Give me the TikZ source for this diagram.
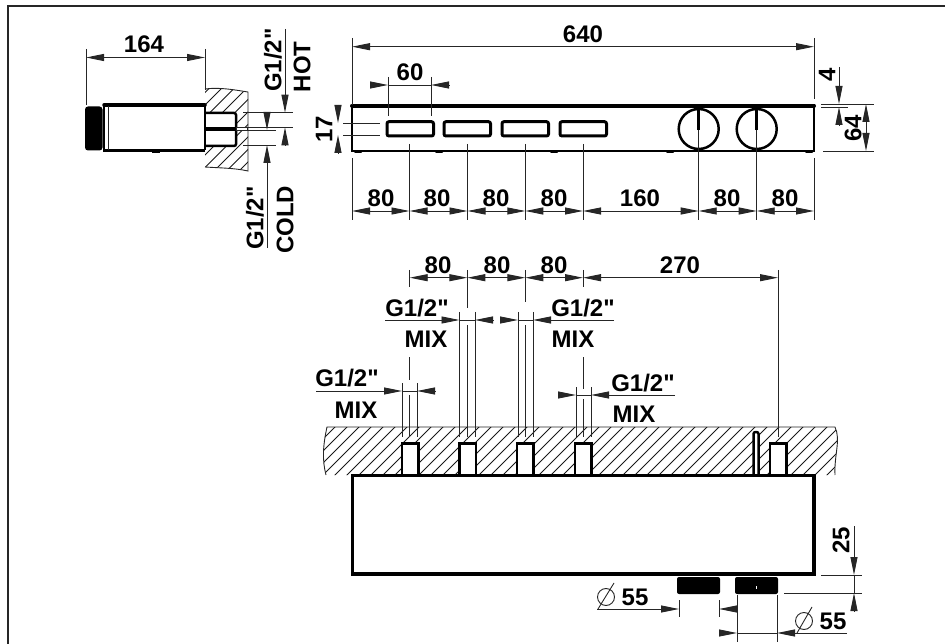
\documentclass[tikz,border=0pt]{standalone}
\usepackage{fontspec}
\setmainfont{Liberation Sans}[Ligatures=TeXOff]
\usetikzlibrary{arrows.meta}

\tikzset{
  dim tip/.tip={Triangle[length=18pt,width=7pt]},
  thin line/.style={line width=0.9pt,black!85},
  hatch line/.style={line width=0.75pt,black!90},
  dim arrow/.style={thin line,-{dim tip}},
  dim both/.style={thin line,{dim tip}-{dim tip}},
  outline/.style={line width=2.2pt},
  heavy/.style={line width=3.5pt,line cap=round},
  dim label/.style={inner sep=0pt,font=\fontsize{24}{24}\selectfont\bfseries},
}

\begin{document}
\begin{tikzpicture}[x=1pt,y=-1pt]
    \useasboundingbox (0,0) rectangle (945,644);
    \draw[line width=2.5pt,black!85] (8,644) -- (8,6) -- (945,6);

    % side view, wall
    \begin{scope}
      \clip (205,89) .. controls (220,87) and (235,90) .. (248,92) -- (248,171) .. controls (235,168) and (220,168) .. (205,167) -- cycle;
      \foreach \x in {110,122.5,...,260}
        \draw[hatch line] (\x,175) -- ++(90,-90);
    \end{scope}
    \draw[thin line] (205,89) .. controls (220,87) and (235,90) .. (248,92) -- (248,171) .. controls (235,168) and (220,168) .. (205,167);
    \fill[white] (205,113) rectangle (236,146);
    \draw[line width=2.5pt,rounded corners=2pt] (205,113) -- (236,113) -- (236,146) -- (205,146);
    \fill[black] (205,127) rectangle (236,131);
    \draw[thin line,fill=white] (236,127.5) rectangle (247,130);

    % side view, body
    \fill[white] (104,105) rectangle (205,151);
    \draw[heavy] (104,105) -- (205,105);
    \draw[outline] (104,105) -- (104,150.5) -- (205,150.5);
    \draw[outline] (205,105) -- (205,150.5);
    \draw[thin line] (108,106) -- (108,150);
    \fill[black,rounded corners=3pt] (85,106.5) rectangle (102.5,150.5);
    \fill[black] (152,150) rectangle (160,153);
    \fill[black] (104,150) rectangle (118,152);
    \fill[black] (192,150) rectangle (203,152);

    % side view, dimensions
    \draw[thin line] (86,49) -- (86,105);
    \draw[thin line] (205,49) -- (205,90);
    \draw[dim both] (86,57.5) -- (205,57.5);
    \node[dim label] (sideWidth) at (144,44) {164};
    \draw[thin line] (243,112.7) -- (293,112.7);
    \draw[thin line] (243,127.3) -- (293,127.3);
    \draw[thin line] (243,130) -- (276,130);
    \draw[thin line] (243,145) -- (276,145);
    \draw[dim arrow] (285,29) -- (285,112.7);
    \draw[dim arrow] (285,145) -- (285,127.3);
    \draw[dim arrow] (267,113) -- (267,130);
    \draw[dim arrow] (267,248) -- (267,145);
    \node[dim label,rotate=90] (hotSize) at (273,60) {G1/2"};
    \node[dim label,rotate=90] (hotName) at (302,67) {HOT};
    \node[dim label,rotate=90] (coldSize) at (255,218) {G1/2"};
    \node[dim label,rotate=90] (coldName) at (285,220) {COLD};

    % front view
    \draw[outline] (352,105.5) -- (352,150.7) -- (814,150.7) -- (814,105.5);
    \draw[line width=4pt,line cap=round] (352,105.7) -- (814,105.7);
    \foreach \x in {387,444,502,560}
      \draw[line width=3pt,rounded corners=2pt] (\x,121.7) rectangle ++(46.5,14.3);
    \foreach \x in {698.7,756.7} {
      \draw[line width=2.5pt] (\x,129) circle (20);
      \draw[line width=2.5pt] (\x,107) -- (\x,130);
      \draw[thin line] (\x,130) -- (\x,220);
    }
    \foreach \x in {409.5,467.5,525.3,583}
      \draw[thin line] (\x,144) -- (\x,220);
    \foreach \x/\w in {358/8,439/8,554/8,670/8,809/8}
      \fill[black,rounded corners=1pt] (\x-\w/2,150.5) rectangle (\x+\w/2,153);

    % front view, dimensions
    \draw[thin line] (352,38) -- (352,105);
    \draw[thin line] (352,158) -- (352,220);
    \draw[thin line] (814,38) -- (814,99);
    \draw[thin line] (814,158) -- (814,220);
    \draw[dim both] (352,46.7) -- (814,46.7);
    \node[dim label] (totalWidth) at (583,34) {640};
    \draw[thin line] (388,77) -- (388,116);
    \draw[thin line] (431,77) -- (431,116);
    \draw[dim arrow] (370,85) -- (388,85);
    \draw[dim arrow] (449,85) -- (431,85);
    \draw[thin line] (388,85) -- (431,85);
    \node[dim label] (buttonPitch) at (410,72) {60};
    \foreach \a/\b in {352/409.5,409.5/467.5,467.5/525.3,525.3/583,583/698.7,698.7/756.7,756.7/814}
      \draw[dim both] (\a,211) -- (\b,211);
    \foreach \x/\t [count=\i] in {381/80,437/80,496/80,554/80,640/160,727/80,785/80}
      \node[dim label] (front\i) at (\x,198) {\t};
    \draw[thin line] (343,123) -- (380,123);
    \draw[thin line] (343,135) -- (380,135);
    \draw[dim arrow] (338,105) -- (338,123);
    \draw[dim arrow] (338,153) -- (338,135);
    \node[dim label,rotate=90] (slotHeight) at (324,129) {17};
    \draw[thin line] (821,104) -- (874,104);
    \draw[thin line] (821,107) -- (848,107);
    \draw[thin line] (823,151) -- (874,151);
    \draw[dim arrow] (839,67) -- (839,104);
    \draw[dim arrow] (839,125) -- (839,107);
    \draw[dim both] (866,104) -- (866,151);
    \node[dim label,rotate=90] (topEdge) at (827,75) {4};
    \node[dim label,rotate=90] (frontHeight) at (853,128) {64};

    % plan view, wall
    \begin{scope}
      \clip (327,427) -- (835,427) .. controls (841,440) and (834,455) .. (835,475) -- (326,475) .. controls (322,460) and (323,445) .. cycle;
      \foreach \x in {270,282,...,840}
        \draw[hatch line] (\x,480) -- ++(55,-55);
    \end{scope}
    \draw[thin line] (326,475) .. controls (322,460) and (323,445) .. (327,427) -- (835,427) .. controls (841,440) and (834,455) .. (835,475);

    % plan view, box and stubs
    \foreach \x in {402,459.5,517,575,770} {
      \draw[line width=2.5pt,fill=white] (\x,475) -- (\x,443.5) -- (\x+16.5,443.5) -- (\x+16.5,475);
      \draw[line width=3pt] (\x,443.5) -- (\x+16.5,443.5);
    }
    \draw[line width=2.5pt,fill=white,rounded corners=2pt] (753.5,475) -- (753.5,432) -- (758.5,432) -- (758.5,475);
    \draw[line width=3.5pt,fill=white] (352.5,475.5) rectangle (814,574);
    \foreach \x in {677,735}
      \fill[black,rounded corners=2pt] (\x,577) rectangle ++(43,17);
    \fill[white] (756,585.5) rectangle (757.3,589);

    % plan view, dimensions
    \foreach \x in {409.7,583}
      \draw[thin line] (\x,270) -- (\x,287);
    \draw[thin line] (467.3,270) -- (467.3,308);
    \draw[thin line] (525.3,270) -- (525.3,302);
    \draw[thin line] (778,270) -- (778,437);
    \foreach \a/\b in {409.7/467.3,467.3/525.3,525.3/583,583/778}
      \draw[dim both] (\a,277.7) -- (\b,277.7);
    \foreach \x/\t [count=\i] in {438/80,497/80,554/80,680/270}
      \node[dim label] (plan\i) at (\x,265) {\t};

    % plan view, pipe sizes
    \foreach \x in {459.5,475,518,533}
      \draw[thin line] (\x,312) -- (\x,437);
    \foreach \x in {467.3,525.3}
      \draw[thin line] (\x,325) -- (\x,437);
    \foreach \x in {402,417}
      \draw[thin line] (\x,383) -- (\x,437);
    \foreach \x in {576,591}
      \draw[thin line] (\x,387) -- (\x,437);
    \draw[thin line] (409.7,357) -- (409.7,380);
    \draw[thin line] (409.7,395) -- (409.7,437);
    \draw[thin line] (583,357) -- (583,389);
    \draw[thin line] (583,399) -- (583,437);

    \draw[dim arrow] (385,320) -- (459.5,320);
    \draw[dim arrow] (493,320) -- (475,320);
    \draw[thin line] (459.5,320) -- (475,320);
    \draw[dim arrow] (500,320) -- (518,320);
    \draw[dim arrow] (614,320) -- (533,320);
    \draw[thin line] (518,320) -- (533,320);
    \draw[dim arrow] (316,391) -- (402,391);
    \draw[dim arrow] (435,391) -- (417,391);
    \draw[thin line] (402,391) -- (417,391);
    \draw[dim arrow] (558,395) -- (576,395);
    \draw[dim arrow] (675,395) -- (591,395);
    \draw[thin line] (576,395) -- (591,395);

    \node[dim label] (mixSizeA) at (417,308) {G1/2"};
    \node[dim label] (mixNameA) at (426,339) {MIX};
    \node[dim label] (mixSizeB) at (583,308) {G1/2"};
    \node[dim label] (mixNameB) at (573,339) {MIX};
    \node[dim label] (mixSizeC) at (347,378) {G1/2"};
    \node[dim label] (mixNameC) at (356,410) {MIX};
    \node[dim label] (mixSizeD) at (643,383) {G1/2"};
    \node[dim label] (mixNameD) at (634,414) {MIX};

    % plan view, knobs
    \draw[thin line] (679,600) -- (679,617);
    \draw[thin line] (719,600) -- (719,617);
    \draw[dim arrow] (597,609) -- (679,609);
    \draw[dim arrow] (737,609) -- (719,609);
    \draw[thin line] (606,597) circle (8.5);
    \draw[thin line] (614,583) -- (598,609);
    \node[dim label] (knobLeft) at (635,597) {55};
    \draw[thin line] (737,595) -- (737,642);
    \draw[thin line] (777,595) -- (777,642);
    \draw[dim arrow] (719,633) -- (737,633);
    \draw[dim arrow] (847,633) -- (777,633);
    \draw[thin line] (737,633) -- (777,633);
    \draw[thin line] (804,621) circle (8.5);
    \draw[thin line] (812,607) -- (797,633);
    \node[dim label] (knobRight) at (833,621) {55};
    \draw[thin line] (821,575) -- (862,575);
    \draw[thin line] (784,593) -- (862,593);
    \draw[dim arrow] (854,526) -- (854,575);
    \draw[dim arrow] (854,611) -- (854,593);
    \draw[thin line] (854,575) -- (854,593);
    \node[dim label,rotate=90] (knobDepth) at (841,540) {25};
\end{tikzpicture}
\end{document}
